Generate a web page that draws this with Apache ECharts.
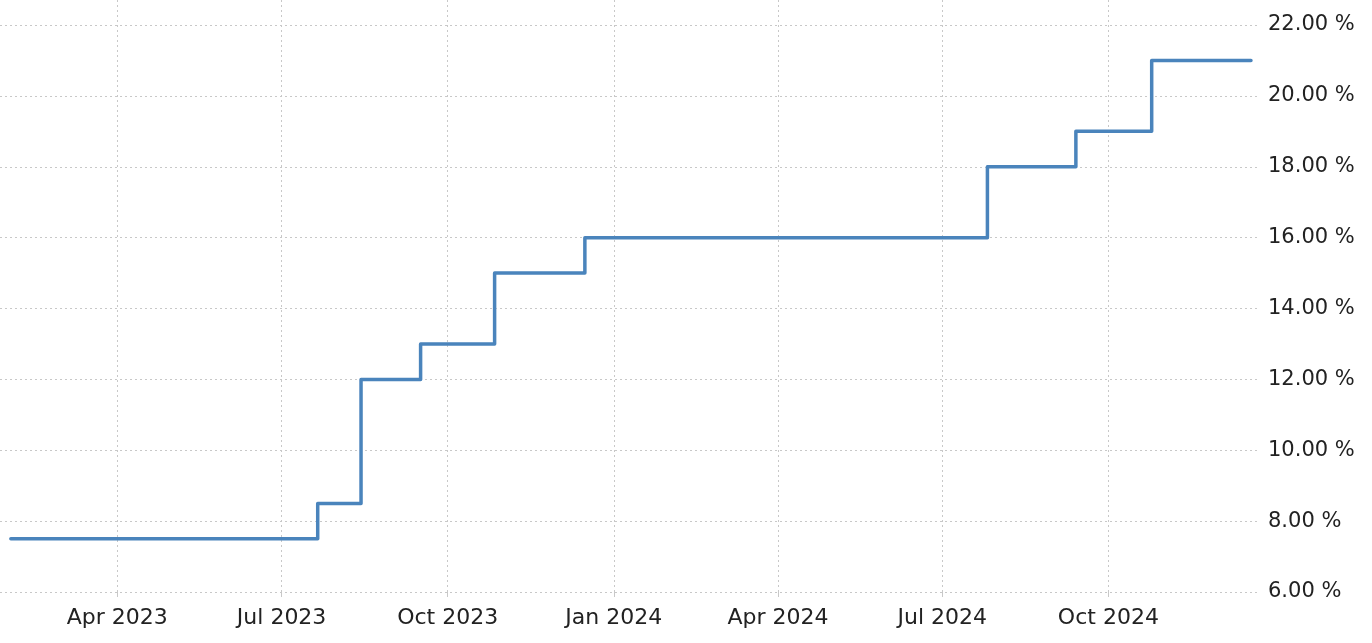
<!DOCTYPE html>
<html>
<head>
<meta charset="utf-8">
<script src="https://cdn.jsdelivr.net/npm/echarts@6/dist/echarts.min.js"></script>
<style>
html,body{margin:0;padding:0;background:#fff;}
#chart{width:1372px;height:643px;}
</style>
</head>
<body>
<div id="chart"></div>
<script>
// Step dates (rate change) and values
const changeDates = ['2023-02-01','2023-07-21','2023-08-14','2023-09-16','2023-10-27','2023-12-16','2024-07-26','2024-09-13','2024-10-25','2024-12-19'];
const rateValues  = [7.5, 8.5, 12, 13, 15, 16, 18, 19, 21, 21];
const tickDates   = ['2023-04-01','2023-07-01','2023-10-01','2024-01-01','2024-04-01','2024-07-01','2024-10-01'];
const tickLabels  = ['Apr 2023','Jul 2023','Oct 2023','Jan 2024','Apr 2024','Jul 2024','Oct 2024'];
const yTicks      = [6, 8, 10, 12, 14, 16, 18, 20, 22];

const ts = d => new Date(d + 'T00:00:00Z').getTime();
const tickTs = tickDates.map(ts);
const xMin = ts('2023-01-26');
const xMax = ts('2024-12-24');
const data = changeDates.map((d, i) => [ts(d), rateValues[i]]);

const font = 'DejaVu Sans';
const gridLine = {show: true, lineStyle: {color: '#c8c8c8', type: [2, 3], width: 1}};

const chart = echarts.init(document.getElementById('chart'), null, {renderer: 'canvas'});
chart.setOption({
  animation: false,
  backgroundColor: '#ffffff',
  grid: [
    {left: 0, right: 112, top: 25, bottom: 51, containLabel: false},
    {left: 0, right: 112, top: 0, bottom: 51, containLabel: false}
  ],
  xAxis: [
    {
      type: 'value', gridIndex: 0, min: xMin, max: xMax,
      axisLine: {show: false},
      axisTick: {show: true, length: 5, lineStyle: {color: '#c8c8c8'}, customValues: tickTs},
      axisLabel: {
        customValues: tickTs, margin: 15, color: '#222', fontFamily: font, fontSize: 22,
        formatter: v => tickLabels[tickTs.indexOf(v)] || ''
      },
      splitLine: {show: false}
    },
    {
      type: 'value', gridIndex: 1, min: xMin, max: xMax,
      axisLine: {show: false},
      axisTick: {show: false, customValues: tickTs},
      axisLabel: {show: false, customValues: tickTs},
      splitLine: gridLine
    }
  ],
  yAxis: [
    {
      type: 'value', gridIndex: 0, position: 'right', min: yTicks[0], max: yTicks[yTicks.length-1], interval: 2,
      axisLine: {show: false}, axisTick: {show: false},
      axisLabel: {margin: 8, color: '#222', fontFamily: font, fontSize: 21, padding: [4, 0, 0, 0],
        formatter: v => v.toFixed(2) + ' %'},
      splitLine: gridLine
    },
    {
      type: 'value', gridIndex: 1, min: 0, max: 1, show: false, splitLine: {show: false}
    }
  ],
  series: [{
    type: 'line', xAxisIndex: 0, yAxisIndex: 0,
    step: 'end', data: data, showSymbol: false, symbol: 'none',
    lineStyle: {color: '#4a84bc', width: 3.5, cap: 'round', join: 'round'}
  }]
});
</script>
</body>
</html>
